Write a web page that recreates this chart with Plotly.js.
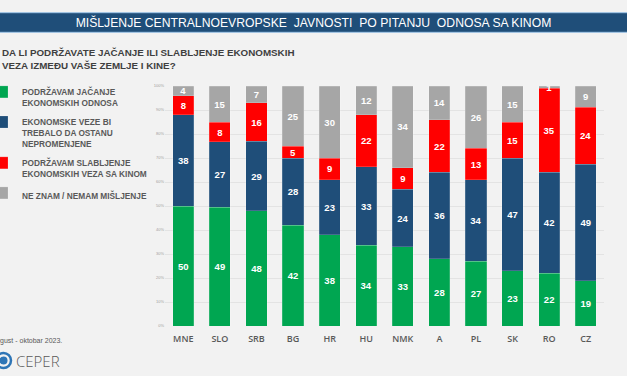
<!DOCTYPE html>
<html><head><meta charset="utf-8">
<script src="https://cdn.plot.ly/plotly-3.0.1.min.js"></script>
<style>html,body{margin:0;padding:0;background:#F2F2F2;}</style>
</head><body><div id="chart" style="width:627px;height:376px;"></div>
<script>
const countries = ["MNE","SLO","SRB","BG","HR","HU","NMK","A","PL","SK","RO","CZ"];
const strengthen = [50,49,48,42,38,34,33,28,27,23,22,19];
const unchanged  = [38,27,29,28,23,33,24,36,34,47,42,49];
const weaken     = [8,8,16,5,9,22,9,22,13,15,35,24];
const dontKnow   = [4,15,7,25,30,12,34,14,26,15,1,9];
const seriesNames = [
  "PODRŽAVAM JAČANJE<br>EKONOMSKIH ODNOSA",
  "EKONOMSKE VEZE BI<br>TREBALO DA OSTANU<br>NEPROMENJENE",
  "PODRŽAVAM SLABLJENJE<br>EKONOMSKIH VEZA SA KINOM",
  "NE ZNAM / NEMAM MIŠLJENJE"
];
const seriesColors = ["#00A651","#1F4E79","#FF0000","#A6A6A6"];
const seriesValues = [strengthen, unchanged, weaken, dontKnow];

const W = 627, H = 376, L = 165, R = 604, T = 86, B = 326;
const px = x => (x - L) / (R - L);
const py = y => (B - y) / (B - T);

const traces = seriesValues.map((vals, i) => ({
  type: "bar",
  x: countries,
  y: vals,
  name: seriesNames[i],
  legendgroup: "g" + i,
  marker: {color: seriesColors[i], line: {color: "rgba(255,255,255,0.35)", width: 0.5}},
  text: vals.map(String),
  texttemplate: "%{text}",
  textposition: "inside",
  insidetextanchor: "middle",
  textangle: 0,
  constraintext: "none",
  cliponaxis: true,
  textfont: {family: "Liberation Sans, Arial, sans-serif", size: 9.5, color: "#FFFFFF", weight: "bold"},
  hoverinfo: "x+y+name"
}));

const layout = {
  width: W, height: H,
  paper_bgcolor: "#F2F2F2", plot_bgcolor: "#F2F2F2",
  margin: {l: L, r: W - R, t: T, b: H - B, autoexpand: false},
  barmode: "stack",
  barnorm: "percent",
  bargap: 0.42,
  showlegend: true,
  title: {
    text: "MIŠLJENJE CENTRALNOEVROPSKE  JAVNOSTI  PO PITANJU  ODNOSA SA KINOM",
    font: {family: "Liberation Sans, Arial, sans-serif", size: 12.2, color: "#FFFFFF"},
    xref: "container", x: 0.5, xanchor: "center",
    yref: "container", y: 1 - 22.6 / H, yanchor: "middle"
  },
  xaxis: {
    type: "category",
    tickfont: {family: "Open Sans, sans-serif", size: 9, color: "#595959", weight: 600},
    showgrid: false, zeroline: false, showline: false, ticks: "",
    ticklabelstandoff: 6,
    fixedrange: true
  },
  yaxis: {
    range: [0, 100], dtick: 10, ticksuffix: "%",
    tickfont: {family: "Liberation Sans, Arial, sans-serif", size: 4, color: "#A0A0A0"},
    gridcolor: "#E3E3E3", gridwidth: 1, zeroline: false, showline: false,
    ticks: "", fixedrange: true
  },
  legend: {
    xref: "paper", yref: "paper",
    x: px(-18), y: py(80), xanchor: "left", yanchor: "top",
    traceorder: "grouped", tracegroupgap: 5.5, valign: "top",
    font: {family: "Liberation Sans, Arial, sans-serif", size: 8.3, color: "#595959", weight: "bold"},
    bgcolor: "rgba(0,0,0,0)"
  },
  shapes: [
    {type: "rect", xref: "paper", yref: "paper", x0: px(-2), x1: px(W + 2), y0: py(32.3), y1: py(12.7),
     fillcolor: "#1F4E79", line: {color: "#9DC3E6", width: 1}, layer: "below"},
    {type: "circle", xref: "paper", yref: "paper", x0: px(-4), x1: px(11), y0: py(368), y1: py(353),
     fillcolor: "rgba(0,0,0,0)", line: {color: "#2E75B6", width: 2.5}},
    {type: "circle", xref: "paper", yref: "paper", x0: px(-0.5), x1: px(7.5), y0: py(364.5), y1: py(356.5),
     fillcolor: "#2E75B6", line: {width: 0}}
  ],
  annotations: [
    {xref: "paper", yref: "paper", x: px(0), y: py(44.5), xanchor: "left", yanchor: "top", align: "left",
     showarrow: false,
     text: "DA LI PODRŽAVATE JAČANJE ILI SLABLJENJE EKONOMSKIH<br>VEZA IZMEĐU VAŠE ZEMLJE I KINE?",
     font: {family: "Liberation Sans, Arial, sans-serif", size: 9.8, color: "#3F3F3F", weight: "bold"}},
    {xref: "paper", yref: "paper", x: px(63.5), y: py(340.5), xanchor: "right", yanchor: "middle",
     showarrow: false, text: "Avgust - oktobar 2023.",
     font: {family: "Liberation Sans, Arial, sans-serif", size: 7, color: "#595959"}},
    {xref: "paper", yref: "paper", x: px(14), y: py(360.5), xanchor: "left", yanchor: "middle",
     showarrow: false, text: "CEPER",
     font: {family: "Open Sans, sans-serif", size: 15, color: "#595959", weight: 300}}
  ]
};

Plotly.newPlot("chart", traces, layout, {displayModeBar: false, staticPlot: true});
</script>
</body></html>
